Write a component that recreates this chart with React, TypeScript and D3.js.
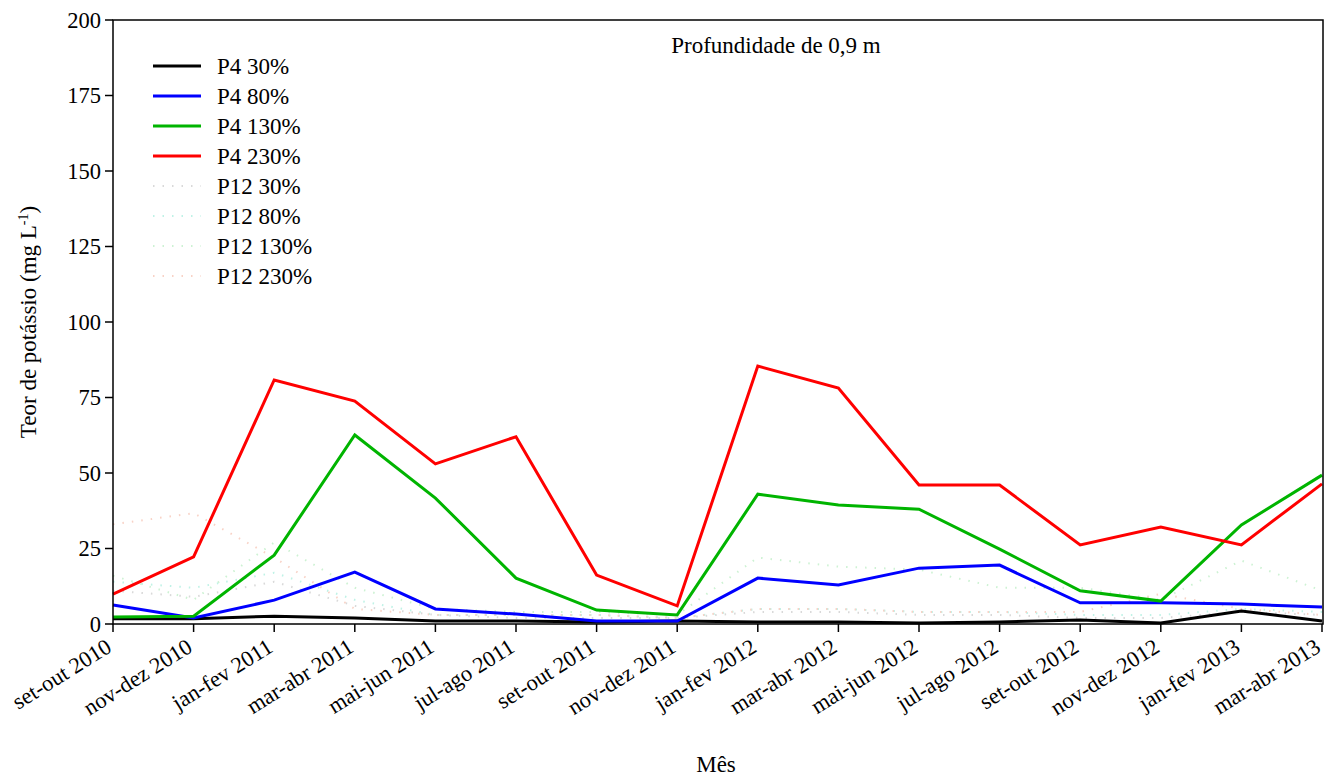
import React from "react";
import * as d3 from "d3";

const categories = [
  "set-out 2010", "nov-dez 2010", "jan-fev 2011", "mar-abr 2011", "mai-jun 2011", "jul-ago 2011",
  "set-out 2011", "nov-dez 2011", "jan-fev 2012", "mar-abr 2012", "mai-jun 2012", "jul-ago 2012",
  "set-out 2012", "nov-dez 2012", "jan-fev 2013", "mar-abr 2013",
];
const yTicks = [0, 25, 50, 75, 100, 125, 150, 175, 200];

const p4_30 = [1.7, 1.7, 2.6, 2.0, 1.0, 1.0, 0.7, 1.0, 0.7, 0.7, 0.3, 0.7, 1.3, 0.3, 4.3, 1.0];
const p4_80 = [6.3, 2.0, 7.9, 17.2, 5.0, 3.3, 1.0, 1.0, 15.2, 12.9, 18.5, 19.5, 7.0, 7.0, 6.6, 5.6];
const p4_130 = [2.3, 2.6, 22.8, 62.6, 41.7, 15.2, 4.6, 3.0, 43.0, 39.4, 38.0, 24.8, 11.0, 7.6, 32.8, 49.3];
const p4_230 = [9.9, 22.2, 80.8, 73.8, 53.0, 62.0, 16.2, 6.0, 85.4, 78.1, 46.0, 46.0, 26.2, 32.1, 26.2, 46.4];
const p12_30 = [11, 9, 14, 6, 3, 2, 2, 2, 4, 4, 3, 3, 2, 2, 4, 3];
const p12_80 = [14, 12, 17, 8, 3, 3, 3, 2, 5, 5, 4, 4, 3, 3, 5, 4];
const p12_130 = [16, 8, 27, 12, 5, 4, 4, 3, 22, 19, 18, 12, 12, 8, 21, 11];
const p12_230 = [33, 36.7, 22, 5, 3, 3, 3, 2, 5, 5, 4, 4, 4, 10, 5, 3];

const seriesNames = ["P4 30%", "P4 80%", "P4 130%", "P4 230%", "P12 30%", "P12 80%", "P12 130%", "P12 230%"];
const seriesData = [p4_30, p4_80, p4_130, p4_230, p12_30, p12_80, p12_130, p12_230];
const seriesColors = ["#000000", "#0000ff", "#00b400", "#ff0000", "#d9d9d9", "#bff2e6", "#cdf2d3", "#f8d2c6"];
const seriesDash = [null, null, null, null, "1.5,8", "1.5,8", "1.5,8", "1.5,8"];

const FONT = '"Liberation Serif", "Times New Roman", "DejaVu Serif", serif';

export default function App() {
  const width = 1327;
  const height = 776;
  const left = 113;
  const right = 1322;
  const top = 20;
  const bottom = 624;
  const ts = { fontFamily: FONT, fontSize: 22.5 } as React.CSSProperties;
  const tt = { fontFamily: FONT, fontSize: 23 } as React.CSSProperties;

  const x = d3.scalePoint<string>().domain(categories).range([left, right]);
  const y = d3.scaleLinear().domain([0, 200]).range([bottom, top]);
  const line = d3
    .line<number>()
    .x((_, i) => x(categories[i]) as number)
    .y((d) => y(d));

  const order = [4, 5, 6, 7, 0, 1, 2, 3];

  return (
    <svg
      width={width}
      height={height}
      style={{ position: "absolute", left: 0, top: 0, background: "#fff", fontFamily: FONT }}
    >
      <rect x={0} y={0} width={width} height={height} fill="#fff" />
      {order.map((si) => (
        <path
          key={si}
          d={line(seriesData[si]) || ""}
          fill="none"
          stroke={seriesColors[si]}
          strokeWidth={si < 4 ? 3 : 2}
          strokeDasharray={seriesDash[si] || undefined}
          strokeLinejoin="miter"
        />
      ))}
      <rect x={left} y={top} width={right - left + 1} height={bottom - top} fill="none" stroke="#000" strokeWidth={1.5} />
      {yTicks.map((t) => (
        <g key={t}>
          <line x1={left - 8} x2={left} y1={y(t)} y2={y(t)} stroke="#000" strokeWidth={1.5} />
          <text x={left - 12} y={y(t)} dy="0.35em" textAnchor="end" style={ts}>
            {t}
          </text>
        </g>
      ))}
      {categories.map((c) => (
        <g key={c}>
          <line x1={x(c)} x2={x(c)} y1={bottom} y2={bottom + 8} stroke="#000" strokeWidth={1.5} />
          <text
            transform={`translate(${(x(c) as number) - 4},${bottom + 20}) rotate(-32)`}
            textAnchor="end"
            dy="0.35em"
            style={ts}
          >
            {c}
          </text>
        </g>
      ))}
      <text x={716} y={772} textAnchor="middle" style={tt}>
        Mês
      </text>
      <text transform={`translate(36,${322}) rotate(-90)`} textAnchor="middle" style={tt}>
        Teor de potássio (mg L
        <tspan dy={-8} style={{ fontSize: 14 }}>-1</tspan>
        <tspan dy={8}>)</tspan>
      </text>
      <text x={776} y={53} textAnchor="middle" style={tt}>
        Profundidade de 0,9 m
      </text>
      {seriesNames.map((n, i) => (
        <g key={n}>
          <line
            x1={153}
            x2={201}
            y1={66 + i * 30}
            y2={66 + i * 30}
            stroke={seriesColors[i]}
            strokeWidth={i < 4 ? 3 : 2}
            strokeDasharray={seriesDash[i] || undefined}
          />
          <text x={217} y={66 + i * 30} dy="0.35em" style={tt}>
            {n}
          </text>
        </g>
      ))}
    </svg>
  );
}
